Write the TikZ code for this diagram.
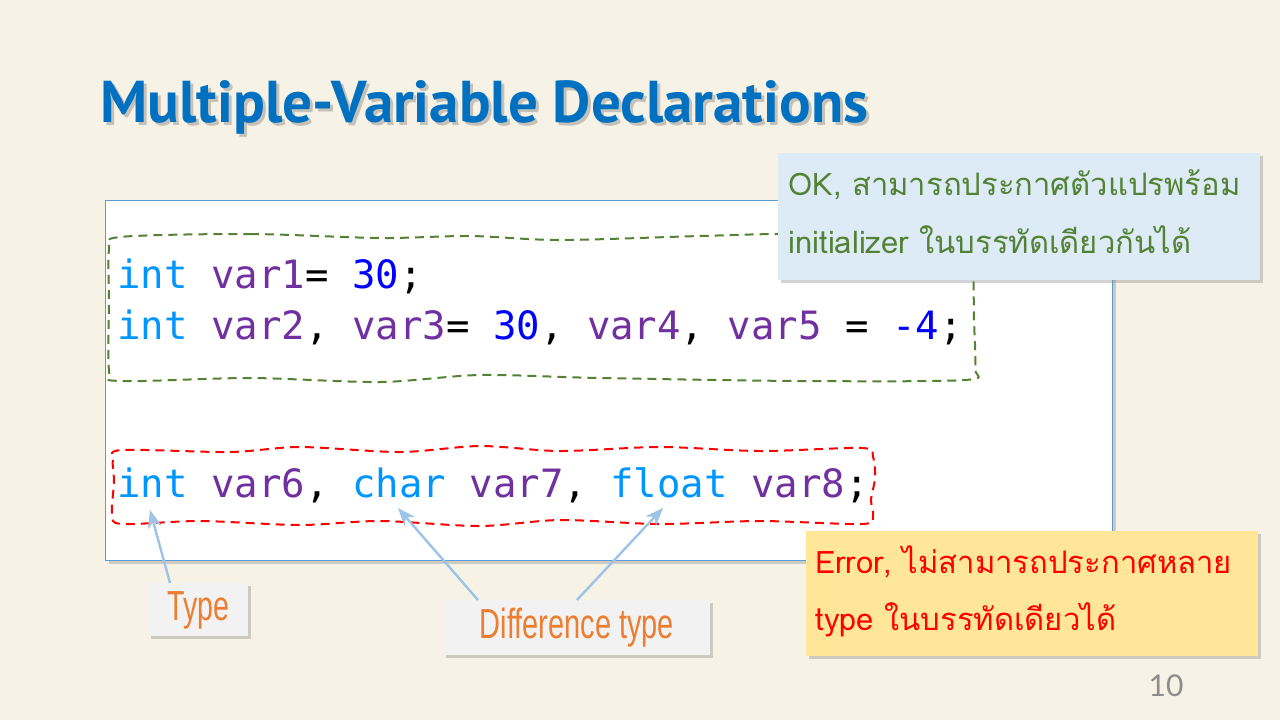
\documentclass[tikz,border=0pt]{standalone}
\usepackage{fontspec}
\setmainfont{Lato}
\newfontfamily\codefont{DejaVu Sans Mono}
\newfontfamily\thaifont[Script=Thai]{Loma}
\newfontfamily\tagfont{Liberation Sans}
\newfontfamily\titlefont{PT Sans}
\usetikzlibrary{shadows,arrows.meta}
\definecolor{paper}{RGB}{247,242,230}
\definecolor{titleblue}{RGB}{0,112,192}
\definecolor{kwblue}{RGB}{0,150,255}
\definecolor{varpurple}{RGB}{112,48,160}
\definecolor{numblue}{RGB}{0,0,255}
\definecolor{okgreen}{RGB}{84,130,53}
\definecolor{okfill}{RGB}{221,235,247}
\definecolor{errfill}{RGB}{255,230,153}
\definecolor{tagfill}{RGB}{242,242,242}
\definecolor{tagorange}{RGB}{237,125,49}
\definecolor{pointblue}{RGB}{157,195,230}
\definecolor{boxline}{RGB}{91,155,213}
\newcommand{\kw}[1]{\textcolor{kwblue}{#1}}
\newcommand{\vn}[1]{\textcolor{varpurple}{#1}}
\newcommand{\nm}[1]{\textcolor{numblue}{#1}}
\begin{document}
\begin{tikzpicture}[x=0.5pt,y=-0.5pt,
    codeline/.style={anchor=base west, inner sep=0pt, font=\codefont\fontsize{19.5}{23}\selectfont},
    callout/.style={anchor=north west, inner sep=0pt, drop shadow={shadow xshift=1.5pt, shadow yshift=-1.5pt, opacity=0.35}},
    note/.style={anchor=base west, inner sep=0pt, font=\thaifont\fontsize{15.5}{20}\selectfont},
    tagbox/.style={callout, fill=tagfill, text=tagorange, font=\tagfont\fontsize{21}{24}\selectfont},
    marquee/.style={dash pattern=on 4.5pt off 3pt, line width=1pt},
    pointer/.style={draw=pointblue, line width=1.2pt, -{Stealth[length=9pt,width=7pt]}}]
    \fill[paper] (0,0) rectangle (1280,720);
    \useasboundingbox (0,0) rectangle (1280,720);

    \node[anchor=base west, inner sep=0pt, text=black, opacity=0.2, font=\titlefont\bfseries\fontsize{29.5}{34}\selectfont] at (103,125) {Multiple-Variable Declarations};
    \node[anchor=base west, inner sep=0pt, text=titleblue, font=\titlefont\bfseries\fontsize{29.5}{34}\selectfont] (title) at (100,122) {Multiple-Variable Declarations};

    \node[callout, fill=white, draw=boxline, line width=0.5pt, minimum width=503.5pt, minimum height=180pt] (codebox) at (105,200) {};

    \draw[okgreen, marquee] plot[smooth cycle, tension=0.5] coordinates {(120,237) (250,234) (380,238) (470,236) (560,240) (700,236) (800,234) (960,239) (972,252) (974,320) (975,368) (965,380) (800,381) (600,378) (480,375) (380,382) (250,378) (120,381) (109,370) (109,300) (109,250)};
    \draw[red, marquee] plot[smooth cycle, tension=0.5] coordinates {(122,450) (230,452) (300,447) (400,452) (480,446) (560,451) (660,447) (760,451) (862,448) (873,457) (875,478) (871,500) (873,516) (862,524) (760,521) (660,524) (560,520) (480,526) (380,521) (300,525) (200,521) (122,524) (112,514) (114,482) (113,460)};

    \node[codeline] (line1) at (117,288) {\kw{int} \vn{var1}= \nm{30};};
    \node[codeline] (line2) at (117,339) {\kw{int} \vn{var2}, \vn{var3}= \nm{30}, \vn{var4}, \vn{var5} = \nm{-4};};
    \node[codeline] (line3) at (117,497) {\kw{int} \vn{var6}, \kw{char} \vn{var7}, \kw{float} \vn{var8};};

    \node[callout, fill=okfill, minimum width=241pt, minimum height=63.5pt] (okbox) at (778,153) {};
    \node[note, text=okgreen] (ok1) at (788,195) {OK, สามารถประกาศตัวแปรพร้อม};
    \node[note, text=okgreen] (ok2) at (788,253) {initializer ในบรรทัดเดียวกันได้};

    \node[callout, fill=errfill, minimum width=226pt, minimum height=62.5pt] (errbox) at (806,531) {};
    \node[note, text=red] (err1) at (815,573) {Error, ไม่สามารถประกาศหลาย};
    \node[note, text=red] (err2) at (815,630) {type ในบรรทัดเดียวได้};

    \node[tagbox, minimum width=50pt, minimum height=26.5pt] (typetag) at (148,583) {\scalebox{0.68}[1]{Type}};
    \node[tagbox, minimum width=133.5pt, minimum height=27.5pt] (difftag) at (443,600) {\scalebox{0.69}[1]{Difference type}};

    \coordinate (inttip) at (150,510);
    \coordinate (chartip) at (398,508);
    \coordinate (floattip) at (663,508);
    \draw[pointer] ([xshift=11pt]typetag.north west) -- (inttip);
    \draw[pointer] ([xshift=17.5pt]difftag.north west) -- (chartip);
    \draw[pointer] (difftag.north) -- (floattip);

    \node[text=black!45, font=\fontsize{15}{18}\selectfont] (pageno) at (1166,686) {10};
\end{tikzpicture}
\end{document}
